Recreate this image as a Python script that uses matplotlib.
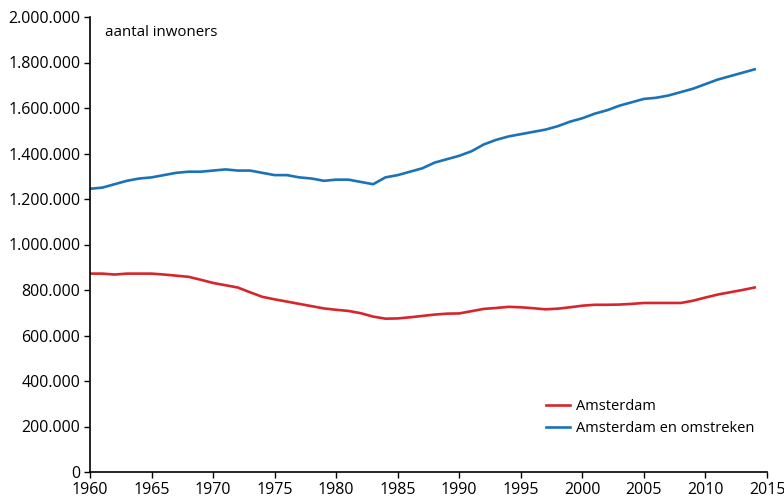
import matplotlib
matplotlib.use('Agg')
import matplotlib.pyplot as plt
from matplotlib.ticker import FuncFormatter, MultipleLocator

plt.rcParams['font.family'] = ['Open Sans', 'DejaVu Sans']

years = list(range(1960, 2015))

amsterdam = [872000, 872000, 868000, 872000, 872000, 872000, 868000, 863000, 858000, 845000,
             831000, 821000, 811000, 790000, 770000, 759000, 749000, 739000, 729000, 719000,
             713000, 708000, 698000, 683000, 674000, 675000, 680000, 686000, 692000, 696000,
             697000, 707000, 717000, 721000, 726000, 724000, 720000, 715000, 718000, 724000,
             731000, 735000, 735000, 736000, 739000, 743000, 743000, 743000, 743000, 753000,
             767000, 780000, 790000, 800000, 811000]

omstreken = [1245000, 1250000, 1265000, 1280000, 1290000, 1295000, 1305000, 1315000, 1320000, 1320000,
             1325000, 1330000, 1325000, 1325000, 1315000, 1305000, 1305000, 1295000, 1290000, 1280000,
             1285000, 1285000, 1275000, 1265000, 1295000, 1305000, 1320000, 1335000, 1360000, 1375000,
             1390000, 1410000, 1440000, 1460000, 1475000, 1485000, 1495000, 1505000, 1520000, 1540000,
             1555000, 1575000, 1590000, 1610000, 1625000, 1640000, 1645000, 1655000, 1670000, 1685000,
             1705000, 1725000, 1740000, 1755000, 1770000]

fig = plt.figure(figsize=(7.84, 5.01), dpi=100)
ax = fig.add_axes([90/784, 29/501, 677/784, 455/501])

ax.plot(years, amsterdam, color='#d7262b', lw=1.9, label='Amsterdam')
ax.plot(years, omstreken, color='#1a73b8', lw=1.9, label='Amsterdam en omstreken')

ax.set_xlim(1960, 2015)
ax.set_ylim(0, 2000000)
ax.xaxis.set_major_locator(MultipleLocator(5))
ax.yaxis.set_major_locator(MultipleLocator(200000))
ax.yaxis.set_major_formatter(FuncFormatter(lambda v, p: f'{int(v):,}'.replace(',', '.')))

for s in ['top', 'right']:
    ax.spines[s].set_visible(False)
ax.spines['left'].set_linewidth(1.2)
ax.spines['bottom'].set_linewidth(1.2)
ax.tick_params(direction='out', length=4, width=1, labelsize=11.5, pad=3)

ax.text(1961.2, 1930000, 'aantal inwoners', fontsize=10.8, va='center')

ax.legend(loc='lower right', bbox_to_anchor=(1.0, 0.05), frameon=False, fontsize=10.5,
          handlelength=1.6, handletextpad=0.4, labelspacing=0.5)

fig.savefig('out.png', dpi=100)
